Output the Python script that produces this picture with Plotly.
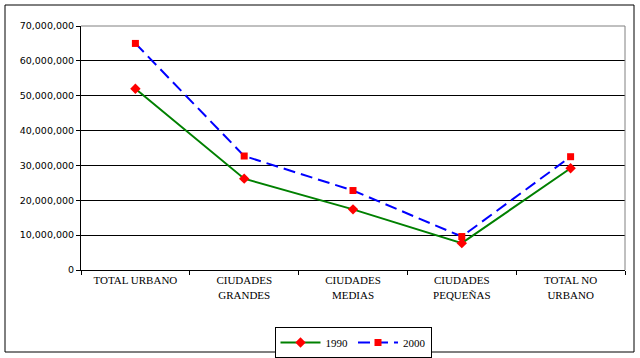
import plotly.graph_objects as go

categories = ["TOTAL URBANO", "CIUDADES<br>GRANDES", "CIUDADES<br>MEDIAS", "CIUDADES<br>PEQUEÑAS", "TOTAL NO<br>URBANO"]
values_1990 = [52000000, 26200000, 17400000, 7700000, 29200000]
values_2000 = [65000000, 32700000, 22800000, 9600000, 32500000]
y_ticks = [0, 10000000, 20000000, 30000000, 40000000, 50000000, 60000000, 70000000]

W, H = 640, 358
L, R, T, B = 81, 625, 26, 270
pw, ph = R - L, B - T

def px(x):
    return (x - L) / pw

def py(y):
    return (B - y) / ph

fig = go.Figure()
fig.add_trace(go.Scatter(
    x=categories, y=values_1990, name="1990", mode="lines+markers",
    line=dict(color="#008000", width=2),
    marker=dict(symbol="diamond", color="#FF0000", size=8),
))
fig.add_trace(go.Scatter(
    x=categories, y=values_2000, name="2000", mode="lines+markers",
    line=dict(color="#0000FF", width=2, dash="12px,6px"),
    marker=dict(symbol="square", color="#FF0000", size=7),
))

fig.update_layout(
    width=W, height=H,
    margin=dict(l=L, r=W - R, t=T, b=H - B, autoexpand=False),
    paper_bgcolor="white", plot_bgcolor="white",
    showlegend=True,
    legend=dict(
        orientation="h", x=0.5, xanchor="center", y=py(327), yanchor="top",
        bordercolor="black", borderwidth=1,
        font=dict(family="Liberation Serif", size=11, color="black"),
        itemwidth=40, tracegroupgap=0,
    ),
    xaxis=dict(
        type="category", range=[-0.5, 4.5],
        showgrid=False, showline=True, linecolor="black", linewidth=1,
        ticks="outside", tickson="boundaries", ticklen=4, tickcolor="black",
        tickfont=dict(family="Liberation Serif", size=11, color="black"),
        fixedrange=True,
    ),
    yaxis=dict(
        range=[0, 70000000], tickvals=y_ticks,
        tickformat=",d",
        showgrid=True, gridcolor="black", gridwidth=1,
        showline=True, linecolor="black", linewidth=1,
        ticks="outside", ticklen=4, tickcolor="black",
        tickfont=dict(family="DejaVu Sans", size=9.5, color="black"),
        zeroline=False, fixedrange=True,
    ),
    shapes=[
        dict(type="line", xref="paper", yref="paper", x0=0, x1=1, y0=1, y1=1,
             line=dict(color="#808080", width=1)),
        dict(type="line", xref="paper", yref="paper", x0=1, x1=1, y0=0, y1=1,
             line=dict(color="#808080", width=1)),
        dict(type="rect", xref="paper", yref="paper",
             x0=px(5), x1=px(634), y0=py(352), y1=py(5),
             line=dict(color="black", width=1), fillcolor="rgba(0,0,0,0)"),
    ],
)

fig.write_html("out.html", config={"displayModeBar": False},
               post_script="document.body.style.margin='0';")
